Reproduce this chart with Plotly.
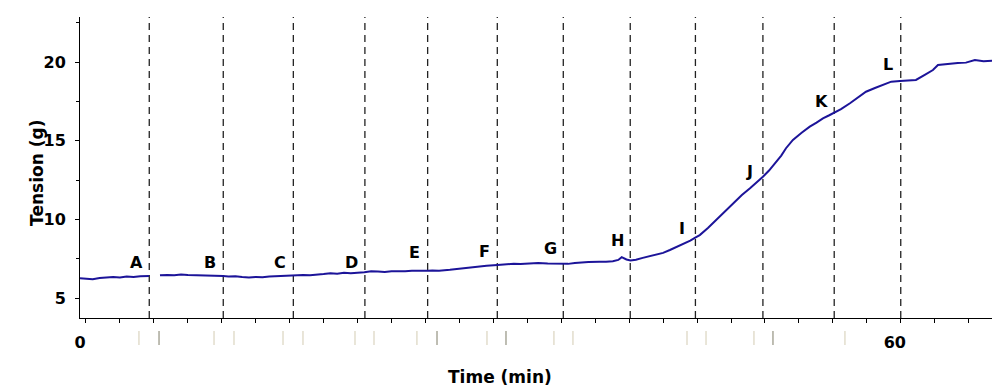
import plotly.graph_objects as go

# Tension trace (min, g); None marks the short break in the recording
time_min = [-0.44, 0.0, 0.5, 1.0, 1.5, 2.0, 2.5, 3.0, 3.5, 4.0, 4.64, None,
            5.45, 6.0, 6.5, 7.0, 7.5, 8.0, 8.5, 9.0, 9.5, 10.1, 10.5, 11.0,
            11.5, 12.0, 12.5, 13.0, 13.5, 14.0, 14.5, 15.2, 15.5, 16.0, 16.5,
            17.0, 17.5, 18.0, 18.5, 19.0, 19.5, 20.5, 21.0, 21.5, 22.0, 22.5,
            23.0, 23.5, 24.0, 24.5, 25.2, 25.5, 26.0, 26.8, 27.5, 28.0, 28.5,
            29.0, 29.5, 30.3, 30.8, 31.5, 32.0, 32.7, 33.3, 34.0, 34.5, 35.1,
            35.5, 36.0, 36.5, 37.0, 37.8, 38.3, 38.8, 39.2, 39.45, 39.8, 40.1,
            40.5, 41.0, 41.5, 42.0, 42.5, 43.0, 43.5, 44.0, 44.5, 44.9, 45.2,
            45.8, 46.4, 47.0, 47.6, 48.3, 48.9, 49.4, 49.85, 50.3, 50.74, 51.2,
            51.55, 52.06, 52.7, 53.3, 53.8, 54.27, 54.7, 55.08, 55.6, 56.26,
            56.9, 57.44, 58.1, 58.69, 59.3, 59.94, 60.5, 61.12, 61.8, 62.37,
            62.74, 63.2, 63.62, 64.2, 64.8, 65.46, 66.1, 66.72]
tension_g = [6.26, 6.24, 6.20, 6.27, 6.30, 6.33, 6.31, 6.36, 6.34, 6.39, 6.40, None,
             6.45, 6.47, 6.44, 6.49, 6.46, 6.45, 6.43, 6.46, 6.42, 6.40, 6.37, 6.38,
             6.33, 6.30, 6.34, 6.32, 6.36, 6.38, 6.42, 6.45, 6.43, 6.46, 6.44,
             6.50, 6.52, 6.57, 6.55, 6.60, 6.58, 6.64, 6.70, 6.68, 6.66, 6.70,
             6.68, 6.70, 6.73, 6.71, 6.73, 6.75, 6.74, 6.79, 6.86, 6.92, 6.97,
             7.00, 7.05, 7.10, 7.14, 7.17, 7.16, 7.21, 7.23, 7.20, 7.19, 7.21,
             7.17, 7.22, 7.26, 7.29, 7.31, 7.30, 7.34, 7.42, 7.60, 7.45, 7.38,
             7.43, 7.55, 7.67, 7.76, 7.87, 8.05, 8.25, 8.43, 8.65, 8.86, 9.00,
             9.45, 9.96, 10.48, 11.02, 11.55, 11.98, 12.35, 12.71, 13.10, 13.56, 14.05,
             14.52, 15.05, 15.50, 15.89, 16.15, 16.42, 16.60, 16.78, 17.00, 17.38,
             17.80, 18.11, 18.35, 18.54, 18.75, 18.79, 18.82, 18.86, 19.20, 19.49,
             19.81, 19.86, 19.92, 19.94, 19.96, 20.13, 20.05, 20.08]

# Event markers
event_labels = ["A", "B", "C", "D", "E", "F", "G", "H", "I", "J", "K", "L"]
event_times = [4.66, 10.11, 15.27, 20.54, 25.16, 30.29, 35.15, 40.08, 44.88, 49.85, 55.10, 60.0]
label_heights = [7.23, 7.23, 7.23, 7.23, 7.87, 7.93, 8.12, 8.63, 9.39, 13.01, 17.46, 19.87]

# faint leftover marks under the time axis
ghost_marks = [3.90, 5.38, 9.43, 10.90, 14.51, 15.98, 19.81, 21.21, 24.37, 25.85,
               29.53, 30.93, 34.46, 35.86, 44.26, 45.66, 49.19, 50.59, 55.89]
ghost_dark = [5.38, 25.85, 30.93, 50.59]

x_ticks = [i * 2.5 for i in range(27)]
x_ticktext = ["0" if v == 0 else "60" if v == 60 else "" for v in x_ticks]
y_ticks = [5, 10, 15, 20]

bold = dict(family="DejaVu Sans, Verdana", size=16, color="black", weight="bold")

fig = go.Figure()
fig.add_trace(go.Scatter(
    x=time_min, y=tension_g, mode="lines",
    line=dict(color="#1c1499", width=2),
    connectgaps=False, showlegend=False,
))

for t in event_times:
    fig.add_shape(type="line", xref="x", yref="paper", x0=t, x1=t, y0=0, y1=1,
                  line=dict(color="#222222", width=1.3, dash="7px,5px"), layer="below")

for lab, t, h in zip(event_labels, event_times, label_heights):
    fig.add_annotation(x=t, y=h, text=lab, showarrow=False, xshift=-13,
                       xanchor="center", yanchor="middle", font=bold)

for g in ghost_marks:
    fig.add_shape(type="line", xref="x", yref="paper", x0=g, x1=g, y0=-0.043, y1=-0.09,
                  line=dict(color="#a9a89a" if g in ghost_dark else "#e2ddcc", width=1.5))

fig.add_annotation(text="Tension (g)", xref="paper", yref="paper", x=0, y=0.482,
                   xshift=-55, textangle=-90, showarrow=False,
                   font=dict(family="DejaVu Sans, Verdana", size=17, color="black", weight="bold"))
fig.add_annotation(text="Time (min)", xref="paper", yref="paper", x=0.461, y=-0.197,
                   showarrow=False, yanchor="middle",
                   font=dict(family="DejaVu Sans, Verdana", size=17, color="black", weight="bold"))

fig.update_layout(
    width=992, height=387,
    margin=dict(l=80, r=0, t=17, b=69),
    paper_bgcolor="white", plot_bgcolor="white",
    xaxis=dict(range=[-0.44, 66.72], tickmode="array", tickvals=x_ticks, ticktext=x_ticktext,
               ticks="outside", ticklen=4, tickcolor="black", showline=True,
               linecolor="black", linewidth=1, showgrid=False, zeroline=False,
               tickfont=bold, ticklabelstandoff=6, ticklabelshift=-6),
    yaxis=dict(range=[3.73, 22.86], tickmode="array", tickvals=y_ticks,
               ticks="outside", ticklen=4, tickcolor="black", showline=True,
               linecolor="black", linewidth=1, showgrid=False, zeroline=False,
               tickfont=bold, ticklabelstandoff=6,
               minor=dict(dtick=2.5, tick0=0, ticks="outside", ticklen=3, tickcolor="black")),
)

fig.write_html("out.html", config={"displayModeBar": False},
               post_script="document.body.style.margin='0';document.body.style.padding='0';")
